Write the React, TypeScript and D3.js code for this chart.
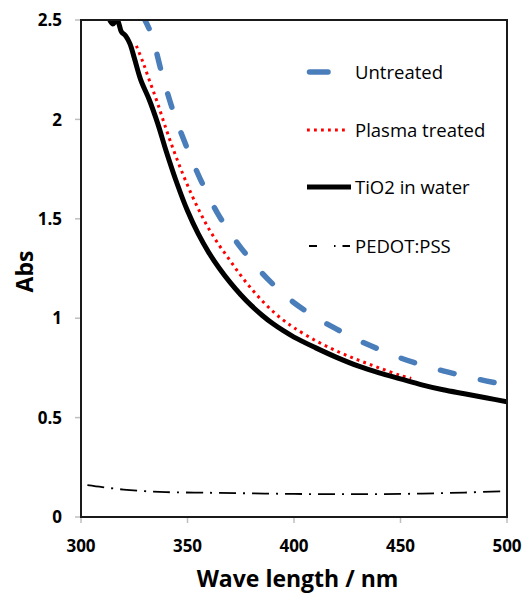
import React from "react";
import * as d3 from "d3";

// ---- data (wavelength nm, absorbance) ----
const untreatedNm = [329, 333, 338, 343, 350, 356, 364, 370, 375, 380, 385, 390, 395, 400, 410, 420, 430, 440, 450, 460, 470, 480, 490, 500];
const untreatedAbs = [2.52, 2.43, 2.23, 2.05, 1.85, 1.70, 1.53, 1.43, 1.355, 1.29, 1.227, 1.172, 1.122, 1.078, 1.005, 0.945, 0.89, 0.843, 0.80, 0.765, 0.735, 0.709, 0.685, 0.664];

const plasmaNm = [326, 329, 332, 336, 340, 344, 348, 352, 356, 360, 365, 370, 375, 380, 385, 390, 395, 400, 410, 420, 430, 440, 450, 455];
const plasmaAbs = [2.37, 2.29, 2.20, 2.08, 1.95, 1.83, 1.72, 1.62, 1.53, 1.45, 1.365, 1.29, 1.215, 1.148, 1.088, 1.035, 0.99, 0.952, 0.888, 0.835, 0.79, 0.75, 0.712, 0.697];

const tio2Nm = [313, 315, 317, 319, 321, 323, 325, 328, 332, 336, 340, 345, 350, 355, 360, 365, 370, 375, 380, 385, 390, 395, 400, 410, 420, 430, 440, 450, 460, 470, 480, 490, 500];
const tio2Abs = [2.51, 2.48, 2.50, 2.44, 2.42, 2.38, 2.31, 2.20, 2.10, 1.98, 1.84, 1.68, 1.54, 1.425, 1.33, 1.25, 1.18, 1.118, 1.063, 1.015, 0.973, 0.937, 0.905, 0.852, 0.803, 0.76, 0.725, 0.695, 0.665, 0.64, 0.62, 0.60, 0.58];

const pedotNm = [303, 310, 320, 330, 340, 360, 380, 400, 420, 440, 460, 480, 500];
const pedotAbs = [0.16, 0.15, 0.138, 0.13, 0.125, 0.122, 0.119, 0.116, 0.115, 0.115, 0.118, 0.123, 0.13];

const xTicks = [300, 350, 400, 450, 500];
const yTicks = [0, 0.5, 1, 1.5, 2, 2.5];
const yTickLabels = ["0", "0.5", "1", "1.5", "2", "2.5"];

const legendLabels = ["Untreated", "Plasma treated", "TiO2 in water", "PEDOT:PSS"];

const W = 523;
const H = 594;
const M = { left: 81, right: 507, top: 20, bottom: 517 };

export default function App() {
  const x = d3.scaleLinear().domain([300, 500]).range([M.left, M.right]);
  const y = d3.scaleLinear().domain([0, 2.5]).range([M.bottom, M.top]);

  const mk = (nm: number[], ab: number[]) => {
    const pts: [number, number][] = nm.map((n, i) => [n, ab[i]]);
    return d3
      .line<[number, number]>()
      .x((d) => x(d[0]))
      .y((d) => y(d[1]))
      .curve(d3.curveCatmullRom.alpha(0.5))(pts) as string;
  };

  const font = "'Open Sans', 'Noto Sans', sans-serif";
  const legendY = [72, 130, 187, 246];

  return (
    <svg width={W} height={H} style={{ position: "absolute", left: 0, top: 0, background: "#fff" }}>
      <defs>
        <clipPath id="plotClip">
          <rect x={M.left} y={M.top} width={M.right - M.left} height={M.bottom - M.top} />
        </clipPath>
      </defs>
      <rect x={0} y={0} width={W} height={H} fill="#fff" />

      {/* ticks */}
      {yTicks.map((t) => (
        <line key={"yt" + t} x1={M.left - 6} x2={M.left} y1={y(t)} y2={y(t)} stroke="#bfbfbf" strokeWidth={1.5} />
      ))}
      {xTicks.map((t) => (
        <line key={"xt" + t} x1={x(t)} x2={x(t)} y1={M.bottom} y2={M.bottom + 6} stroke="#bfbfbf" strokeWidth={1.5} />
      ))}

      {/* series */}
      <g clipPath="url(#plotClip)">
        <path d={mk(pedotNm, pedotAbs)} fill="none" stroke="#000" strokeWidth={1.8} strokeDasharray="17 7 2 7" />
        <path d={mk(untreatedNm, untreatedAbs)} fill="none" stroke="#4a7ebb" strokeWidth={5.5} strokeDasharray="14 27" strokeLinecap="round" />
        <path d={mk(plasmaNm, plasmaAbs)} fill="none" stroke="#ff0000" strokeWidth={3} strokeDasharray="2.8 4.2" />
        <path d={mk(tio2Nm, tio2Abs)} fill="none" stroke="#000" strokeWidth={5} strokeLinejoin="round" />
      </g>

      {/* frame */}
      <rect x={M.left} y={M.top} width={M.right - M.left} height={M.bottom - M.top} fill="none" stroke="#1a1a1a" strokeWidth={2} />

      {/* tick labels */}
      {yTicks.map((t, i) => (
        <text key={"yl" + t} x={62} y={y(t)} dy="0.36em" textAnchor="end" fontFamily={font} fontWeight={700} fontSize={17} fill="#000">
          {yTickLabels[i]}
        </text>
      ))}
      {xTicks.map((t) => (
        <text key={"xl" + t} x={x(t)} y={545.5} dy="0.36em" textAnchor="middle" fontFamily={font} fontWeight={700} fontSize={17} fill="#000">
          {t}
        </text>
      ))}

      {/* axis titles */}
      <text x={297.5} y={587} textAnchor="middle" fontFamily={font} fontWeight={700} fontSize={23} fill="#000">
        Wave length / nm
      </text>
      <text transform="translate(33,271.5) rotate(-90)" textAnchor="middle" fontFamily={font} fontWeight={700} fontSize={23} fill="#000">
        Abs
      </text>

      {/* legend */}
      <line x1={309.5} x2={328} y1={legendY[0]} y2={legendY[0]} stroke="#4a7ebb" strokeWidth={5.5} strokeLinecap="round" />
      <line x1={307} x2={349} y1={legendY[1]} y2={legendY[1]} stroke="#ff0000" strokeWidth={3} strokeDasharray="2.8 4.2" />
      <line x1={307} x2={351} y1={legendY[2]} y2={legendY[2]} stroke="#000" strokeWidth={5} />
      <line x1={309} x2={350} y1={legendY[3]} y2={legendY[3]} stroke="#000" strokeWidth={1.8} strokeDasharray="8 17 1.5 7 8" />
      {legendLabels.map((l, i) => (
        <text key={l} x={355} y={legendY[i]} dy="0.36em" fontFamily={font} fontSize={18.5} fill="#000">
          {l}
        </text>
      ))}
    </svg>
  );
}
